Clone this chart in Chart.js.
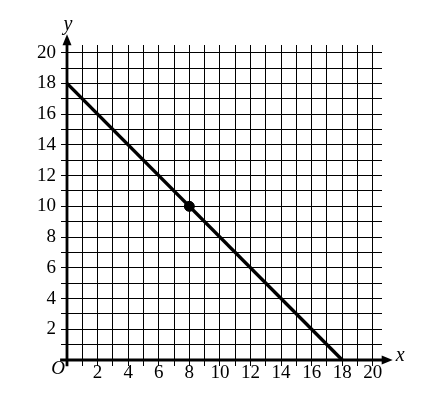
<!DOCTYPE html>
<html>
<head>
<meta charset="utf-8">
<script src="https://cdn.jsdelivr.net/npm/chart.js@4"></script>
<style>
  body { margin: 0; background: #fff; }
  #wrap { width: 429px; height: 396px; }
</style>
</head>
<body>
<div id="wrap"><canvas id="graph" width="429" height="396"></canvas></div>
<script>
// grid runs 0..20 on both axes, labels only on even numbers
const gridValues = [0, 1, 2, 3, 4, 5, 6, 7, 8, 9, 10, 11, 12, 13, 14, 15, 16, 17, 18, 19, 20];
const xLabels = [2, 4, 6, 8, 10, 12, 14, 16, 18, 20];
const yLabels = [2, 4, 6, 8, 10, 12, 14, 16, 18, 20];
const lineX = [0, 18];
const lineY = [18, 0];
const pointX = [8];
const pointY = [10];

const serif = '"Liberation Serif", "DejaVu Serif", serif';

const axesPlugin = {
    id: 'axes',
    beforeDatasetsDraw(chart) {
        const {ctx, scales: {x, y}} = chart;
        const x0 = x.getPixelForValue(0);
        const y0 = y.getPixelForValue(0);
        const left = x.getPixelForValue(-0.45);
        const right = x.getPixelForValue(21.3);
        const bottom = y.getPixelForValue(-0.4);
        const top = y.getPixelForValue(21.2);
        ctx.save();
        ctx.strokeStyle = '#000';
        ctx.fillStyle = '#000';
        ctx.lineWidth = 2.8;
        ctx.beginPath();
        ctx.moveTo(left, y0);
        ctx.lineTo(right - 6, y0);
        ctx.moveTo(x0, bottom);
        ctx.lineTo(x0, top + 6);
        ctx.stroke();
        // arrow heads
        ctx.beginPath();
        ctx.moveTo(right, y0);
        ctx.lineTo(right - 11, y0 - 4.5);
        ctx.lineTo(right - 11, y0 + 4.5);
        ctx.closePath();
        ctx.fill();
        ctx.beginPath();
        ctx.moveTo(x0, top);
        ctx.lineTo(x0 - 4.5, top + 11);
        ctx.lineTo(x0 + 4.5, top + 11);
        ctx.closePath();
        ctx.fill();
        // axis names
        ctx.font = 'italic 20px ' + serif;
        ctx.textAlign = 'left';
        ctx.textBaseline = 'alphabetic';
        ctx.fillText('x', right + 3, y0 + 1);
        ctx.textAlign = 'center';
        ctx.fillText('y', x0 + 1, top - 4);
        ctx.font = 'italic 19px ' + serif;
        ctx.fillText('O', x0 - 9, y0 + 14);
        ctx.restore();
    }
};

const gridOpts = {
    color: '#000',
    lineWidth: 1,
    tickLength: 6,
    tickColor: '#000',
};

new Chart(document.getElementById('graph'), {
    type: 'scatter',
    data: {
        datasets: [{
            type: 'line',
            data: lineX.map((v, i) => ({x: v, y: lineY[i]})),
            borderColor: '#000',
            borderWidth: 3.4,
            pointRadius: 0,
            clip: false,
        }, {
            data: pointX.map((v, i) => ({x: v, y: pointY[i]})),
            backgroundColor: '#000',
            borderColor: '#000',
            pointRadius: 5,
            clip: false,
        }],
    },
    options: {
        responsive: false,
        animation: false,
        layout: {
            padding: {left: 0, top: 45, right: 47, bottom: 0},
        },
        plugins: {
            legend: {display: false},
            tooltip: {enabled: false},
        },
        scales: {
            x: {
                type: 'linear',
                min: 0,
                max: 20.6,
                border: {display: false},
                grid: gridOpts,
                afterBuildTicks: scale => {
                    scale.ticks = gridValues.map(v => ({value: v}));
                },
                afterFit: scale => {
                    scale.height = 36;
                },
                ticks: {
                    autoSkip: false,
                    maxRotation: 0,
                    padding: -4,
                    color: '#000',
                    font: {family: serif, size: 19},
                    callback: v => xLabels.includes(v) ? String(v) : '',
                },
            },
            y: {
                type: 'linear',
                min: 0,
                max: 20.5,
                border: {display: false},
                grid: gridOpts,
                afterBuildTicks: scale => {
                    scale.ticks = gridValues.map(v => ({value: v}));
                },
                afterFit: scale => {
                    scale.width = 67;
                },
                ticks: {
                    autoSkip: false,
                    padding: 5,
                    color: '#000',
                    font: {family: serif, size: 19},
                    callback: v => yLabels.includes(v) ? String(v) : '',
                },
            },
        },
    },
    plugins: [axesPlugin],
});
</script>
</body>
</html>
